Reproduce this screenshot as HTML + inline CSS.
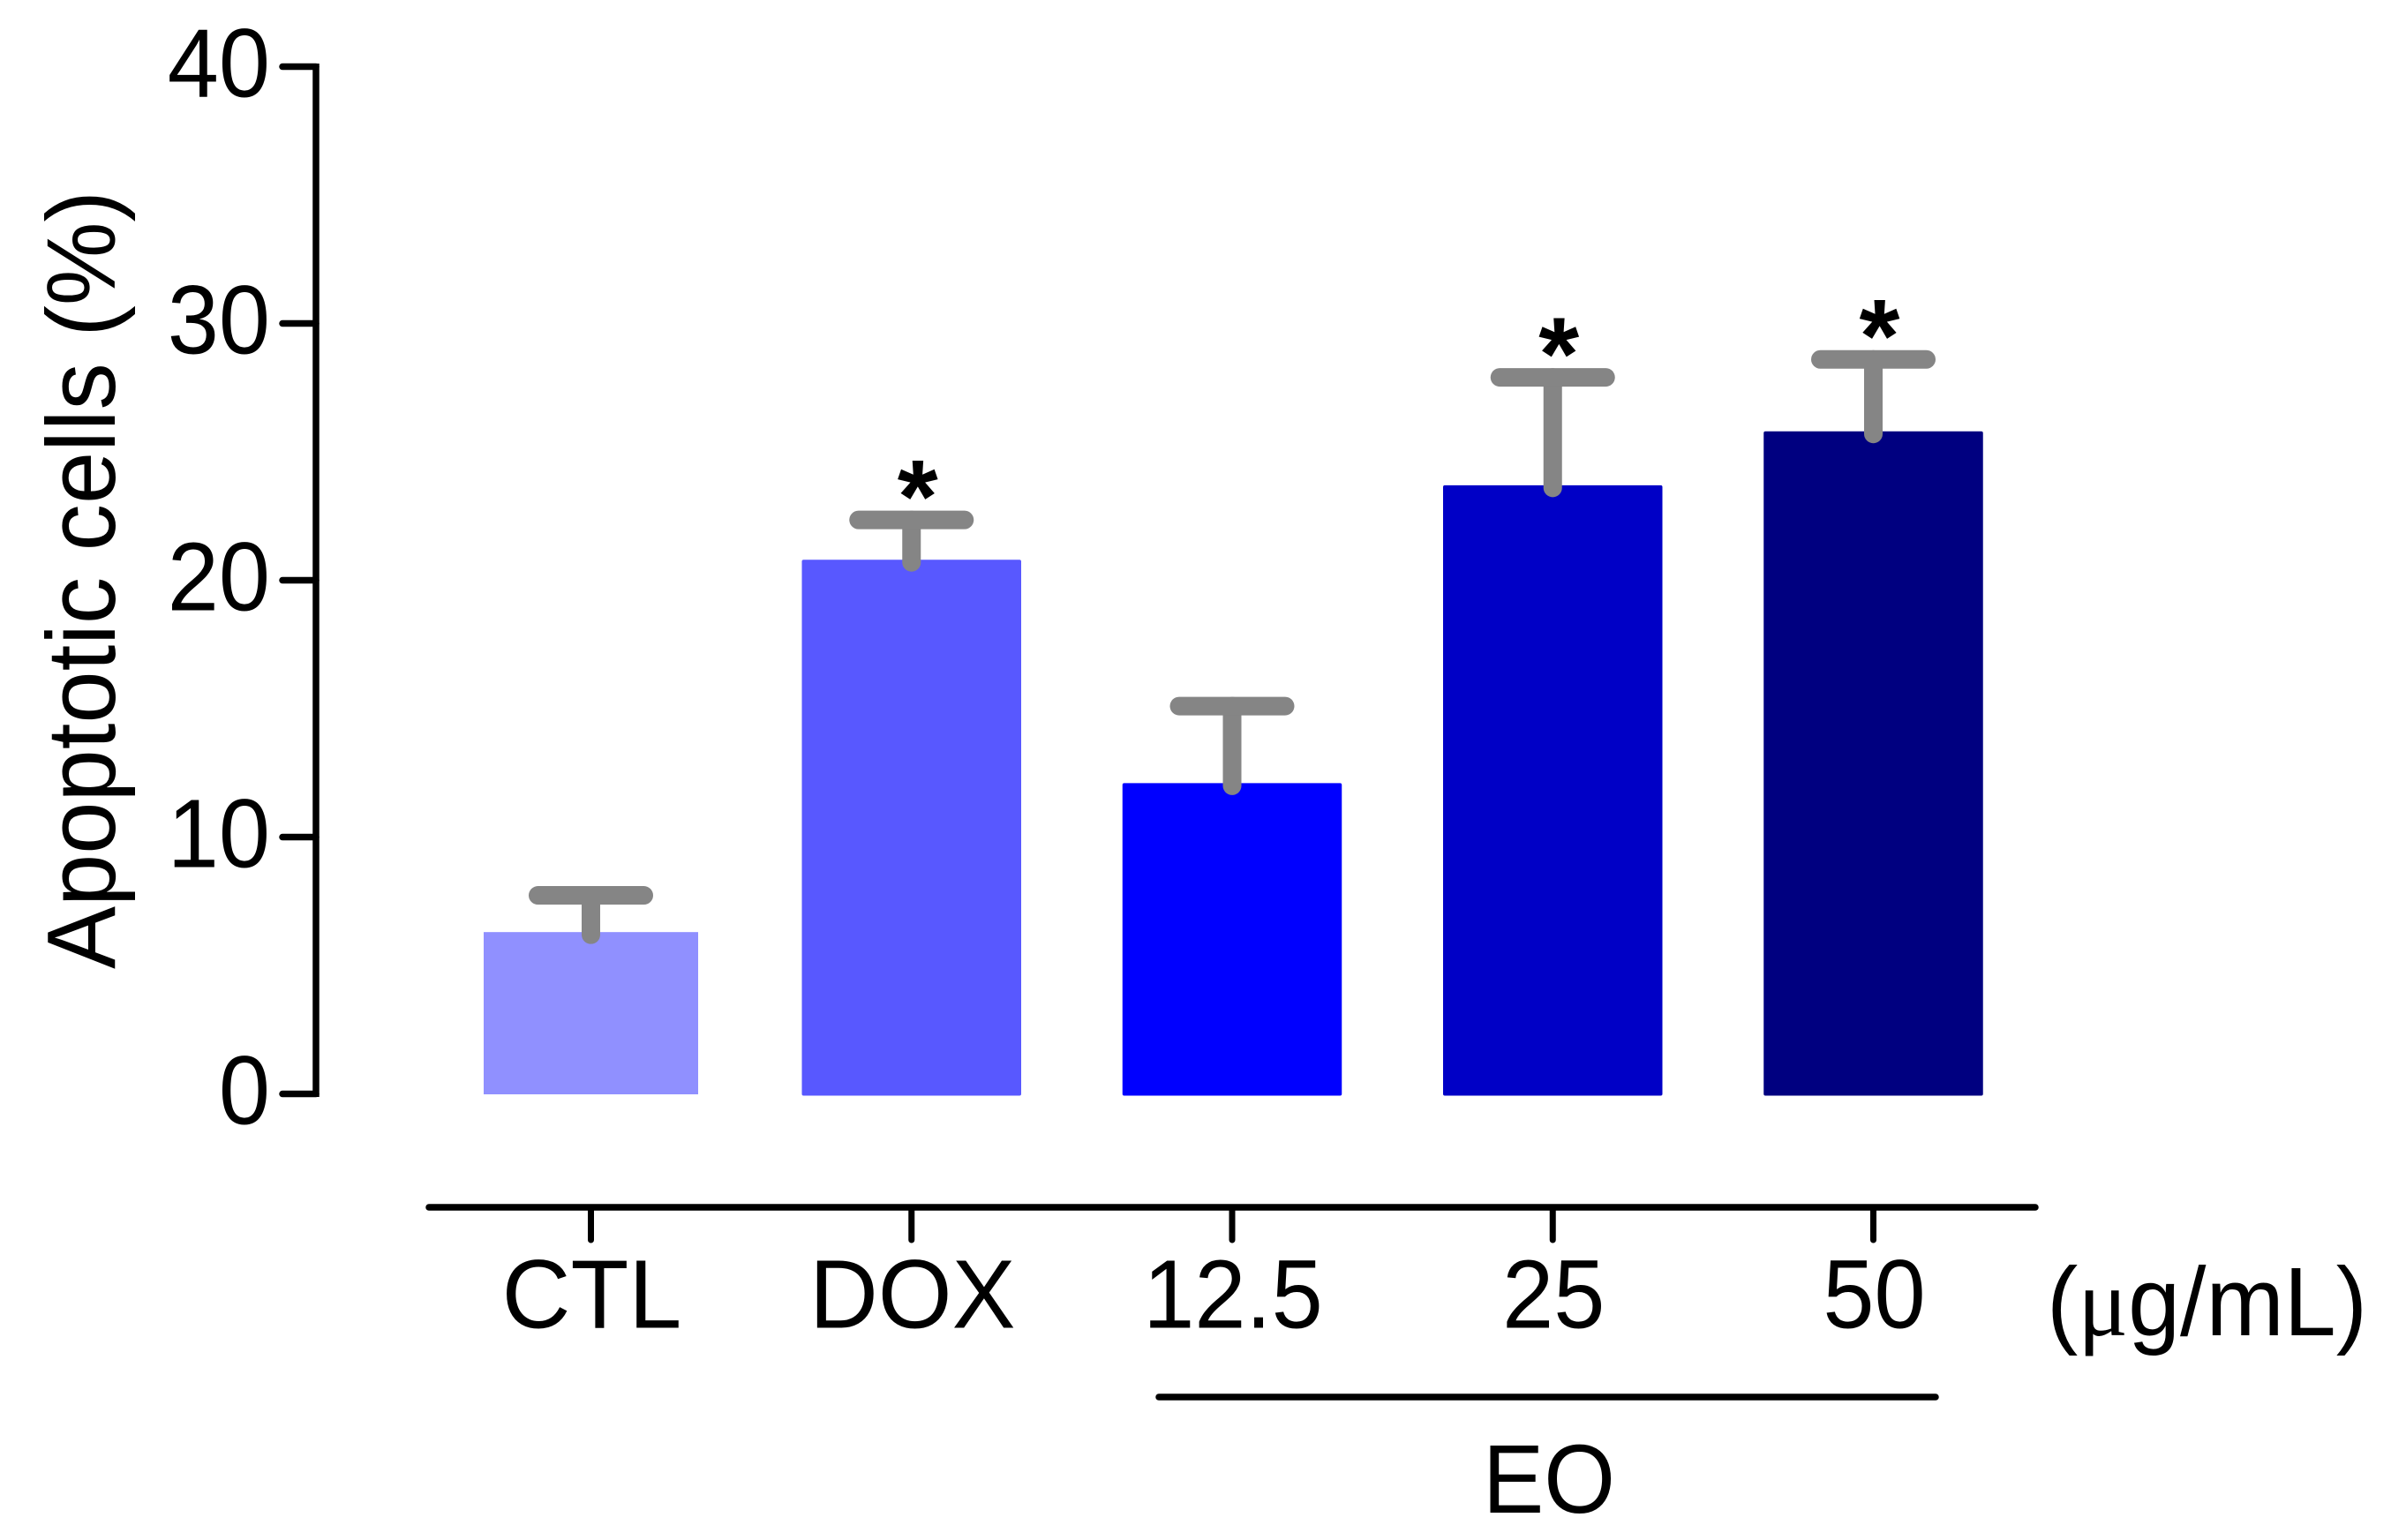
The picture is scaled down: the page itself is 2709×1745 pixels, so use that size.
<!DOCTYPE html>
<html lang="en">
<head>
<meta charset="utf-8">
<title>Apoptotic cells bar chart</title>
<style>
html,body{margin:0;padding:0;background:#fff;}
svg{display:block;}
text{font-family:"Liberation Sans",Arial,sans-serif;fill:#000;}
</style>
</head>
<body>
<svg id="chart" xmlns="http://www.w3.org/2000/svg" width="2709" height="1745" viewBox="0 0 2709 1745">
  <rect x="0" y="0" width="2709" height="1745" fill="#ffffff"/>
  <text transform="translate(130,1098) rotate(-90)" font-size="110" textLength="882" lengthAdjust="spacingAndGlyphs">Apoptotic cells (%)</text>
  <text x="2319" y="1513" font-size="110" textLength="363" lengthAdjust="spacingAndGlyphs">(<tspan font-family="Liberation Serif, serif">μ</tspan>g/mL)</text>
  <line x1="1313" y1="1583" x2="2193" y2="1583" stroke="#000" stroke-width="7.5" stroke-linecap="round"/>
  <text x="1755" y="1714" font-size="110" text-anchor="middle" textLength="150" lengthAdjust="spacingAndGlyphs">EO</text>
</svg>
<script>
const categories = ["CTL", "DOX", "12.5", "25", "50"];
const meanValues = [6.3, 20.8, 12.1, 23.7, 25.8];
const upperValues = [7.73, 22.35, 15.1, 27.9, 28.6];
const significant = [false, true, false, true, true];
const barColors = ["#9090ff", "#5858ff", "#0000ff", "#0000c6", "#000080"];
const yTicks = [0, 10, 20, 30, 40];

const svg = document.getElementById("chart");
const NS = "http://www.w3.org/2000/svg";
const yScale = function (v) { return 1239.5 - 29.1 * v; };
const xScale = function (i) { return 669.5 + 363.25 * i; };

function make(tag, attrs, parent) {
  const el = document.createElementNS(NS, tag);
  for (const k in attrs) { el.setAttribute(k, attrs[k]); }
  (parent || svg).appendChild(el);
  return el;
}

// squeeze a label horizontally to match the reference's narrower glyphs
function squeeze(el, k) {
  el.setAttribute("textLength", el.getComputedTextLength() * k);
  el.setAttribute("lengthAdjust", "spacingAndGlyphs");
}

// bars
categories.forEach(function (c, i) {
  const w = i === 0 ? 243 : 248.5;
  const bottom = i === 0 ? yScale(0) + 0.5 : yScale(0) + 2;
  const r = make("rect", {
    x: xScale(i) - w / 2,
    y: yScale(meanValues[i]),
    width: w,
    height: bottom - yScale(meanValues[i]),
    rx: i === 0 ? 0 : 2,
    fill: barColors[i]
  });
  
  
});

// error bars
categories.forEach(function (c, i) {
  const g = make("g", {stroke: "#858585", "stroke-width": 21, "stroke-linecap": "round", fill: "none"});
  
  
  make("line", {x1: xScale(i), x2: xScale(i), y1: yScale(upperValues[i]), y2: yScale(meanValues[i]) + 3}, g);
  make("line", {x1: xScale(i) - 60, x2: xScale(i) + 60, y1: yScale(upperValues[i]), y2: yScale(upperValues[i])}, g);
  if (significant[i]) {
    const s = make("text", {x: xScale(i) + 7, y: yScale(upperValues[i]) + 14, "font-size": 118, "text-anchor": "middle", "font-weight": "bold"});
    
    
    s.textContent = "*";
  }
});

// y axis
const yAxisLine = make("line", {x1: 358, x2: 358, y1: yScale(40) - 3.5, y2: yScale(0) + 3.5, stroke: "#000", "stroke-width": 7.5});


yTicks.forEach(function (t) {
  const tick = make("line", {x1: 320, x2: 358, y1: yScale(t), y2: yScale(t), stroke: "#000", "stroke-width": 7.5, "stroke-linecap": "round"});
  
  
  const label = make("text", {x: 306, y: yScale(t) + 34, "font-size": 110, "text-anchor": "end"});
  
  
  label.textContent = String(t);
  squeeze(label, 0.95);
});

// x axis
const xAxisLine = make("line", {x1: 486, x2: 2306, y1: 1368, y2: 1368, stroke: "#000", "stroke-width": 7.5, "stroke-linecap": "round"});


categories.forEach(function (c, i) {
  const tick = make("line", {x1: xScale(i), x2: xScale(i), y1: 1368, y2: 1405, stroke: "#000", "stroke-width": 7, "stroke-linecap": "round"});
  
  
  const label = make("text", {x: xScale(i) + 1, y: 1504.5, "font-size": 110, "text-anchor": "middle"});
  
  
  label.textContent = c;
  squeeze(label, /^[A-Z]/.test(c) ? 0.98 : 0.95);
});
</script>
</body>
</html>
